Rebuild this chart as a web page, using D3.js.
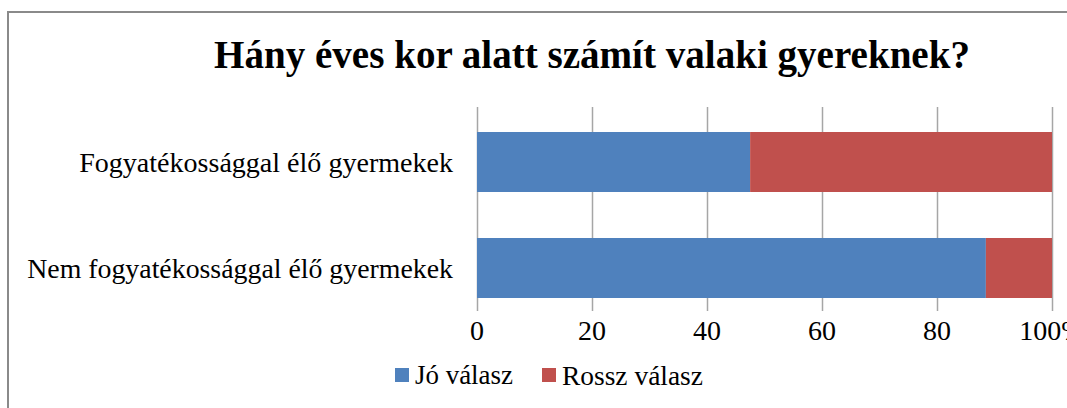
<!DOCTYPE html>
<html>
<head>
<meta charset="utf-8">
<script src="https://cdn.jsdelivr.net/npm/d3@7"></script>
<style>
  body { margin: 0; background: #fff; }
  svg { display: block; }
  text { font-family: "Liberation Serif", "DejaVu Serif", serif; fill: #000; }
</style>
</head>
<body>
<div class="container-viewer"></div>
<script>
//* DATOS *//
const categories = ['Fogyatékossággal élő gyermekek', 'Nem fogyatékossággal élő gyermekek'];
const joValasz = [47.5, 88.5];     // Jó válasz (%)
const rosszValasz = [52.5, 11.5];  // Rossz válasz (%)
const seriesNames = ['Jó válasz', 'Rossz válasz'];
const tickValues = [0, 20, 40, 60, 80, 100];
const tickLabels = ['0', '20', '40', '60', '80', '100%'];
const titleText = 'Hány éves kor alatt számít valaki gyereknek?';

//* MEDIDAS *//
const width = 1067, height = 408;
const colors = ['#4f81bd', '#c0504d'];

const svg = d3.select('.container-viewer').append('svg')
  .attr('width', width).attr('height', height);

// marco del grafico
svg.append('rect')
  .attr('x', 8).attr('y', 12)
  .attr('width', width + 20).attr('height', height + 20)
  .attr('fill', 'none').attr('stroke', '#8a8a8a').attr('stroke-width', 2);

// ajusta el tamaño de letra para que el texto ocupe un ancho dado
function fitText(sel, target) {
  const node = sel.node();
  const fs = parseFloat(sel.attr('font-size'));
  const w = node.getComputedTextLength();
  sel.attr('font-size', (fs * target / w).toFixed(2));
}

// titulo
const title = svg.append('text')
  .attr('x', 592).attr('y', 68)
  .attr('text-anchor', 'middle')
  .attr('font-size', 34).attr('font-weight', 'bold')
  .text(titleText);
fitText(title, 756);

// escalas
const x = d3.scaleLinear().domain([0, 100]).range([477, 1052]);
const y = d3.scaleBand().domain(categories).range([109, 321])
  .paddingInner(0.434).paddingOuter(0.217);

// rejilla del eje X
const xAxis = d3.axisBottom(x)
  .tickValues(tickValues)
  .tickFormat('')
  .tickSize(204);

const gx = svg.append('g')
  .attr('transform', 'translate(0,107)')
  .call(xAxis);
gx.select('.domain').remove();
gx.selectAll('.tick line').attr('stroke', '#a6a6a6').attr('stroke-width', 1.5);

// etiquetas del eje X
tickValues.forEach((v, i) => {
  const t = svg.append('text')
    .attr('x', x(v))
    .attr('y', 340)
    .attr('text-anchor', 'middle')
    .attr('font-size', 26)
    .text(tickLabels[i]);
  if (i === 1) fitText(t, 28);
});
const tickFs = svg.selectAll('text').filter((d, i, n) => n[i].textContent === '20').attr('font-size');
svg.selectAll('text').filter((d, i, n) => tickLabels.includes(n[i].textContent)).attr('font-size', tickFs);

// barras apiladas
const stacked = categories.map((c, i) => ({ cat: c, vals: [joValasz[i], rosszValasz[i]] }));
stacked.forEach((row) => {
  let acc = 0;
  row.vals.forEach((v, s) => {
    svg.append('rect')
      .attr('x', x(acc))
      .attr('y', y(row.cat))
      .attr('width', x(acc + v) - x(acc))
      .attr('height', y.bandwidth())
      .attr('fill', colors[s]);
    acc += v;
  });
});

// etiquetas de categoria
categories.forEach((c, i) => {
  const t = svg.append('text')
    .attr('x', 453)
    .attr('y', y(c) + y.bandwidth() / 2)
    .attr('dy', '0.35em')
    .attr('text-anchor', 'end')
    .attr('font-size', 22)
    .text(c);
  fitText(t, i === 0 ? 374 : 426);
});

// leyenda
const legendX = [395, 542];
seriesNames.forEach((name, i) => {
  svg.append('rect')
    .attr('x', legendX[i]).attr('y', 368)
    .attr('width', 14).attr('height', 14)
    .attr('fill', colors[i]);
  const t = svg.append('text')
    .attr('x', legendX[i] + 20).attr('y', 375)
    .attr('dy', '0.35em')
    .attr('font-size', 22)
    .text(name);
  fitText(t, i === 0 ? 98 : 141);
});
</script>
</body>
</html>
